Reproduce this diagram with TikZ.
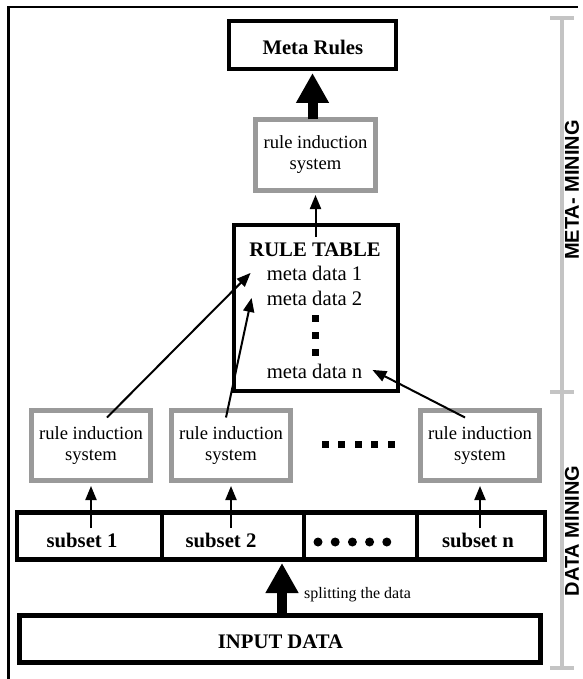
\documentclass[tikz,border=0pt]{standalone}
\usepackage{fontspec}
\setmainfont{Liberation Serif}
\newfontfamily\labelfont{Liberation Sans}
\usetikzlibrary{arrows.meta,calc}
\definecolor{boxgray}{HTML}{9A9A9A}
\definecolor{bracketgray}{HTML}{C4C4C4}
\begin{document}
\begin{tikzpicture}[x=1pt,y=-1pt,
  blackbox/.style={draw=black,line width=4.5pt,inner sep=0pt,outer sep=0pt,fill=white},
  graybox/.style={draw=boxgray,line width=5pt,inner sep=0pt,outer sep=0pt,fill=white,align=center,
    font=\fontsize{18.6}{21}\selectfont},
  boldtext/.style={inner sep=0pt,font=\bfseries\fontsize{20.7}{21}\selectfont},
  plaintext/.style={inner sep=0pt,font=\fontsize{20.7}{21}\selectfont},
  smalltext/.style={inner sep=0pt,font=\fontsize{16}{18}\selectfont},
  sidelabel/.style={inner sep=0pt,rotate=90,font=\labelfont\bfseries\fontsize{20}{21}\selectfont},
  sq/.style={fill=black,draw=none,minimum size=7pt,inner sep=0pt,outer sep=0pt},
  bullet/.style={fill=black,draw=none,circle,minimum size=9pt,inner sep=0pt},
  thinarrow/.style={line width=2pt,-{Triangle[length=14pt,width=11pt]}},
  bigarrow/.style={line width=10pt,-{Triangle[length=30pt,width=31pt]}},
  bracket/.style={draw=bracketgray,line width=4pt},
  frame/.style={line width=2.5pt}
]
\useasboundingbox (0,0) rectangle (582,679);
% frame
\draw[frame] (8.5,679) -- (8.5,6.8) -- (578,6.8);
% side bracket
\coordinate (bt) at (562,18);
\coordinate (bm) at (562,392);
\coordinate (bb) at (562,668);
\draw[bracket] (bt) -- (bb);
\foreach \c in {bt,bm,bb} \draw[bracket] ($(\c)+(-12,0)$) -- ($(\c)+(12,0)$);
\node[sidelabel] (lmeta) at (572,190) {META- MINING};
\node[sidelabel] (ldata) at (572,531) {DATA MINING};

% meta rules
\node[blackbox,minimum width=167pt,minimum height=48pt] (meta) at (312.5,45) {};
\node[boldtext,anchor=base] (metatxt) at (312.8,55) {Meta Rules};
% top rule induction
\node[graybox,minimum width=120pt,minimum height=71pt] (ris0) at (315.5,155) {rule induction\\system};
% rule table
\node[blackbox,minimum width=164pt,minimum height=166pt] (table) at (316,308) {};
\node[boldtext,anchor=base] (rt) at (315,256) {RULE TABLE};
\node[plaintext,anchor=base] (md1) at (314.5,280) {meta data 1};
\node[plaintext,anchor=base] (md2) at (314.5,305) {meta data 2};
\node[sq] (v1) at (315,318) {};
\node[sq] (v2) at (315,335) {};
\node[sq] (v3) at (315,352) {};
\node[plaintext,anchor=base] (mdn) at (314.5,378) {meta data n};

% bottom rule induction systems
\node[graybox,minimum width=119pt,minimum height=70pt] (ris1) at (91,445.5) {rule induction\\system};
\node[graybox,minimum width=119pt,minimum height=70pt] (ris2) at (231,445.5) {rule induction\\system};
\node[graybox,minimum width=119pt,minimum height=70pt] (ris3) at (480,445.5) {rule induction\\system};
\foreach \x [count=\i] in {325,341.5,358,374.5,391} \node[sq] (e\i) at (\x,444.5) {};

% subsets
\node[blackbox,minimum width=145pt,minimum height=47pt] (s1) at (89.5,536) {};
\node[blackbox,minimum width=142pt,minimum height=47pt] (s2) at (233,536) {};
\node[blackbox,minimum width=113pt,minimum height=47pt] (s3) at (360.5,536) {};
\node[blackbox,minimum width=128pt,minimum height=47pt] (s4) at (481,536) {};
\node[boldtext,anchor=base] (s1t) at (82,547) {subset 1};
\node[boldtext,anchor=base] (s2t) at (221,547) {subset 2};
\node[boldtext,anchor=base] (s4t) at (478,547) {subset n};
\foreach \x [count=\i] in {318,335.2,352.4,369.6,386.8} \node[bullet] (b\i) at (\x,542) {};

% input data
\node[blackbox,minimum width=521pt,minimum height=47pt] (inp) at (280,639) {};
\node[boldtext,anchor=base] (inptxt) at (280.5,648) {INPUT DATA};
\node[smalltext,anchor=west] (split) at (304,595) {splitting the data};

% connectors
\draw[bigarrow,shorten >=3.5pt] ($(inp.north)+(2,0)$) -- ($(inp.north |- s2.south)+(2,0)$);
\draw[thinarrow,shorten >=5.5pt] ($(ris1.south |- s1.north)+(0,15.5)$) -- (ris1.south);
\draw[thinarrow,shorten >=5.5pt] ($(ris2.south |- s2.north)+(0,15.5)$) -- (ris2.south);
\draw[thinarrow,shorten >=5.5pt] ($(ris3.south |- s4.north)+(0,15.5)$) -- (ris3.south);
\draw[thinarrow] ($(ris1.north)+(16,7)$) -- ($(md1.west)+(-16,0)$);
\draw[thinarrow] ($(ris2.north)+(-5,7)$) -- ($(md2.west)+(-15,0)$);
\draw[thinarrow] ($(ris3.north)+(-15,7)$) -- ($(mdn.east)+(10,-1)$);
\draw[thinarrow,shorten >=4.5pt] ($(ris0.south |- table.north)+(0,12)$) -- (ris0.south);
\draw[bigarrow,shorten >=4pt] (ris0.north -| meta.south) -- (meta.south);
\end{tikzpicture}
\end{document}
